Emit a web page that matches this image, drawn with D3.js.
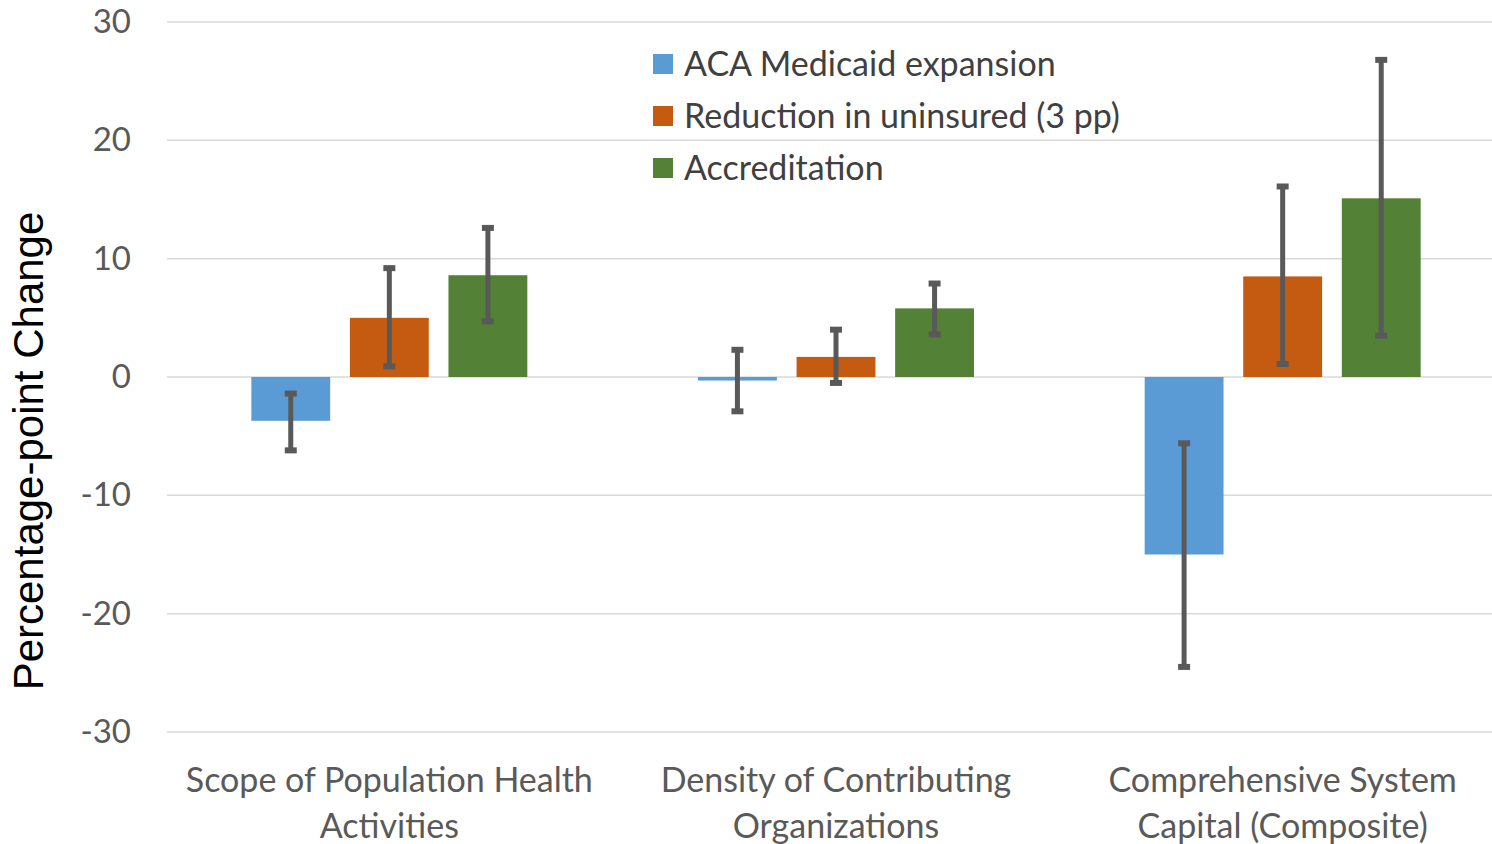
<!DOCTYPE html>
<html>
<head>
<meta charset="utf-8">
<script src="https://cdn.jsdelivr.net/npm/d3@7"></script>
<style>
  body { margin: 0; background: #fff; }
  svg { display: block; }
</style>
</head>
<body>
<div class="chart"></div>
<script>
// data
const categories = ["Scope of Population Health Activities", "Density of Contributing Organizations", "Comprehensive System Capital (Composite)"]
const categoryLines = [["Scope of Population Health", "Activities"], ["Density of Contributing", "Organizations"], ["Comprehensive System", "Capital (Composite)"]]
const seriesNames = ["ACA Medicaid expansion", "Reduction in uninsured (3 pp)", "Accreditation"]
const seriesColors = ["#5B9BD5", "#C55A11", "#538135"]
const medicaid = [-3.7, -0.3, -15.0]
const medicaidLow = [-6.2, -2.9, -24.5]
const medicaidHigh = [-1.4, 2.3, -5.6]
const uninsured = [5.0, 1.7, 8.5]
const uninsuredLow = [0.9, -0.5, 1.1]
const uninsuredHigh = [9.2, 4.0, 16.1]
const accreditation = [8.6, 5.8, 15.1]
const accreditationLow = [4.7, 3.6, 3.5]
const accreditationHigh = [12.6, 7.9, 26.8]
const yTicks = [-30, -20, -10, 0, 10, 20, 30]

const width = 1492, height = 844
const margin = {top: 22, right: 0, bottom: 112, left: 167}
const labelFont = "Lato, 'Open Sans', sans-serif"

const svg = d3.select(".chart").append("svg")
  .attr("width", width).attr("height", height)

const y = d3.scaleLinear().domain([-30, 30]).range([height - margin.bottom, margin.top])
// plot area runs a little past the right edge of the picture
const x0 = d3.scaleBand().domain(categories).range([166, 1506])
const groupW = 3 * 78 + 2 * 21
const x1 = d3.scaleBand().domain(seriesNames)
  .range([(x0.bandwidth() - groupW) / 2, (x0.bandwidth() + groupW) / 2])
  .paddingInner(0.2)

// gridlines
svg.append("g").selectAll("line").data(yTicks).enter().append("line")
  .attr("x1", margin.left).attr("x2", width)
  .attr("y1", d => y(d)).attr("y2", d => y(d))
  .attr("stroke", "#d9d9d9").attr("stroke-width", 1.5)

// y axis labels
const axisY = svg.append("g").attr("transform", "translate(" + (margin.left - 36) + ",0)")
  .call(d3.axisLeft(y).tickValues(yTicks).tickSize(0).tickPadding(0).tickFormat(d => String(d)))
axisY.select(".domain").remove()
axisY.selectAll("text").attr("font-family", labelFont)
  .attr("font-size", 33).attr("fill", "#595959")

// y title
svg.append("text")
  .attr("transform", "translate(43,451) rotate(-90)")
  .attr("text-anchor", "middle")
  .attr("font-family", "'Liberation Sans', Arial, sans-serif")
  .attr("font-size", 42).attr("fill", "#000")
  .text("Percentage-point Change")

const series = [
  {name: seriesNames[0], vals: medicaid, lo: medicaidLow, hi: medicaidHigh},
  {name: seriesNames[1], vals: uninsured, lo: uninsuredLow, hi: uninsuredHigh},
  {name: seriesNames[2], vals: accreditation, lo: accreditationLow, hi: accreditationHigh}
]
const rows = []
series.forEach((s, si) => {
  categories.forEach((c, ci) => {
    rows.push({cat: c, series: s.name, color: seriesColors[si], v: s.vals[ci], lo: s.lo[ci], hi: s.hi[ci]})
  })
})

const bars = svg.append("g")
bars.selectAll("rect").data(rows).enter().append("rect")
  .attr("x", d => x0(d.cat) + x1(d.series))
  .attr("width", x1.bandwidth())
  .attr("y", d => y(Math.max(0, d.v)))
  .attr("height", d => Math.abs(y(d.v) - y(0)))
  .attr("fill", d => d.color)

// error bars
const err = svg.append("g").attr("stroke", "#595959")
const cx = d => x0(d.cat) + x1(d.series) + x1.bandwidth() / 2
err.selectAll(".stem").data(rows).enter().append("line")
  .attr("x1", cx).attr("x2", cx)
  .attr("y1", d => y(d.lo)).attr("y2", d => y(d.hi))
  .attr("stroke-width", 5)
err.selectAll(".cap").data(rows.flatMap(d => [{d: d, v: d.lo}, {d: d, v: d.hi}])).enter().append("line")
  .attr("x1", e => cx(e.d) - 6).attr("x2", e => cx(e.d) + 6)
  .attr("y1", e => y(e.v)).attr("y2", e => y(e.v))
  .attr("stroke-width", 6)

// category labels
const catG = svg.append("g")
categories.forEach((c, i) => {
  const t = catG.append("text")
    .attr("x", x0(c) + x0.bandwidth() / 2)
    .attr("y", height - margin.bottom + 60)
    .attr("text-anchor", "middle")
    .attr("font-family", labelFont)
    .attr("font-size", 34).attr("fill", "#595959")
  categoryLines[i].forEach((line, li) => {
    t.append("tspan").attr("x", x0(c) + x0.bandwidth() / 2).attr("dy", li === 0 ? 0 : 46).text(line)
  })
})

// legend
const legend = svg.append("g").attr("transform", "translate(653,64)")
seriesNames.forEach((n, i) => {
  const g = legend.append("g").attr("transform", "translate(0," + (i * 52) + ")")
  g.append("rect").attr("x", 0).attr("y", -10).attr("width", 20).attr("height", 20).attr("fill", seriesColors[i])
  g.append("text").attr("x", 31).attr("y", 12)
    .attr("font-family", labelFont)
    .attr("font-size", 34).attr("fill", "#404040").text(n)
})
</script>
</body>
</html>
